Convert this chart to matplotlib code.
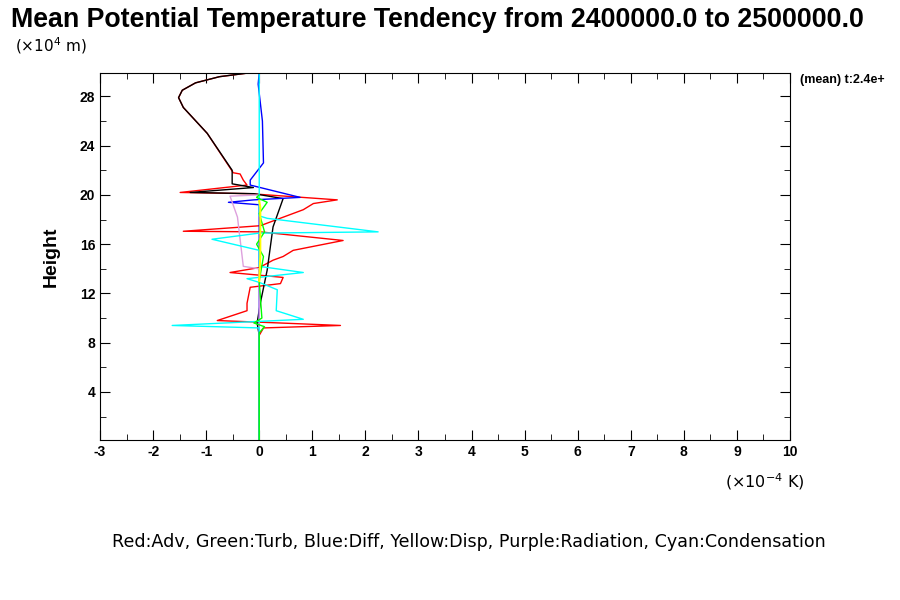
import numpy as np
import matplotlib.pyplot as plt
from matplotlib.ticker import MultipleLocator

plt.rcParams['font.family'] = ['Liberation Sans', 'DejaVu Sans']
plt.rcParams['axes.unicode_minus'] = False

# profiles: (value x1e-4 K, height x1e4 m)
adv_x = [0, 0, 0, 0.08, 1.53, 0.4, -0.79, -0.23, -0.23, -0.17, 0.4, 0.45, -0.04, -0.55, 0, 0.26, 0.45,
         0.64, 1.58, 0.02, -1.43, 0.02, 0.83, 1.02, 1.47, -0.17, -1.49, -0.23, -0.30, -0.36, -0.49,
         -0.55, -0.98, -1.43, -1.52, -1.45, -1.2, -0.75, -0.21]
adv_h = [0.1, 8.0, 8.6, 9.2, 9.4, 9.6, 9.8, 10.6, 11.2, 12.5, 12.8, 13.3, 13.5, 13.7, 14.1, 14.7, 15.0,
         15.5, 16.3, 17.0, 17.05, 17.5, 18.8, 19.3, 19.6, 20.1, 20.2, 20.8, 21.2, 21.7, 21.8,
         22.2, 25.0, 27.1, 27.9, 28.5, 29.1, 29.6, 29.9]
tot_x = [0, 0, -0.04, 0.02, 0.15, 0.26, 0.45, -0.1, -1.3, -0.11, -0.51, -0.51, -0.98, -1.43, -1.52,
         -1.45, -1.2, -0.75, -0.21]
tot_h = [0.1, 8.6, 9.6, 11.2, 13.9, 17.4, 19.7, 20.1, 20.2, 20.6, 20.9, 22.0, 25.0, 27.1, 27.9,
         28.5, 29.1, 29.6, 29.9]
diff_x = [0, 0, -0.58, -0.1, 0.77, -0.17, -0.17, 0.08, 0.06, -0.02, 0]
diff_h = [0.1, 19.2, 19.4, 19.6, 19.8, 20.8, 21.2, 22.6, 26.0, 29.0, 29.9]
rad_x = [0, 0, -0.3, -0.41, -0.55, 0]
rad_h = [0.1, 14.0, 14.2, 18.2, 19.9, 20.0]
cond_x = [0, 0, -1.64, 0.83, 0.32, 0.34, 0, -0.23, 0.83, 0, 0, -0.89, 0, 2.24, 0.15, 0, 0]
cond_h = [0.1, 9.2, 9.4, 9.9, 10.6, 12.3, 12.9, 13.2, 13.7, 14.2, 15.5, 16.4, 16.9, 17.0, 18.1, 18.3, 29.9]
turb_x = [0, 0, 0.1, -0.1, 0.05, 0, 0.08, -0.05, 0.1, 0, 0.15, -0.05, 0]
turb_h = [0.1, 8.8, 9.3, 9.6, 10.0, 13.0, 15.0, 16.0, 17.0, 18.5, 19.4, 19.8, 20.0]
disp_x = [0, 0.02, 0.02, 0]
disp_h = [13.0, 15.0, 19.0, 19.5]

fig = plt.figure(figsize=(9, 6), dpi=100)
ax = fig.add_axes([100/900, 1-440/600, 690/900, 367/600])
ax.plot(adv_x, adv_h, color='red', lw=1)
ax.plot(tot_x, tot_h, color='black', lw=1)
ax.plot(diff_x, diff_h, color='blue', lw=1)
ax.plot(rad_x, rad_h, color='plum', lw=1)
ax.plot(cond_x, cond_h, color='cyan', lw=1)
ax.plot(turb_x, turb_h, color='lime', lw=1)
ax.plot(disp_x, disp_h, color='yellow', lw=1.5)

ax.set_xlim(-3, 10)
ax.set_ylim(0.1, 29.9)
ax.set_xticks(range(-3, 11))
ax.set_yticks([4, 8, 12, 16, 20, 24, 28])
ax.xaxis.set_minor_locator(MultipleLocator(0.5))
ax.yaxis.set_minor_locator(MultipleLocator(2))
ax.tick_params(which='both', direction='in', top=True, right=True, labelsize=10)
ax.tick_params(which='major', length=7)
ax.tick_params(which='minor', length=4)
for lab in ax.get_xticklabels() + ax.get_yticklabels():
    lab.set_fontweight('bold')
ax.set_ylabel('Height', fontsize=14, fontweight='bold', labelpad=14)

fig.text(0.012, 0.955, 'Mean Potential Temperature Tendency from 2400000.0 to 2500000.0',
         fontsize=19.3, fontweight='bold')
fig.text(0.017, 0.915, r'($\times10^4$ m)', fontsize=11, family='DejaVu Sans')
fig.text(805/900, 1-482/600, r'($\times10^{-4}$ K)', fontsize=11.5, ha='right', va='center',
         family='DejaVu Sans')
fig.text(800/900, 1-80/600, '(mean) t:2.4e+', fontsize=9, fontweight='bold', va='center')
fig.text(469/900, 1-542/600,
         'Red:Adv, Green:Turb, Blue:Diff, Yellow:Disp, Purple:Radiation, Cyan:Condensation',
         fontsize=12.6, ha='center', va='center', family='DejaVu Sans')
fig.savefig('out.png', dpi=100)
